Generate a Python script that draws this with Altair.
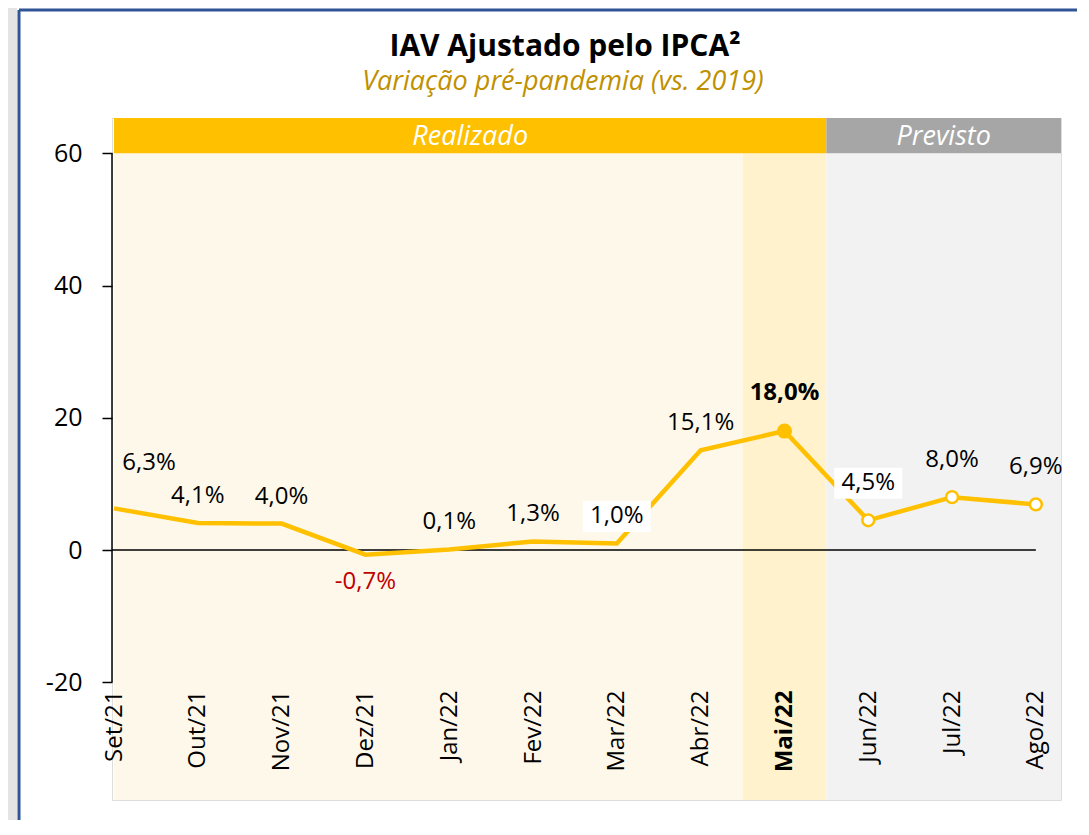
import json
import altair as alt
import pandas as pd

# ---------------- data ----------------
months = ["Set/21", "Out/21", "Nov/21", "Dez/21", "Jan/22", "Fev/22",
          "Mar/22", "Abr/22", "Mai/22", "Jun/22", "Jul/22", "Ago/22"]
values = [6.3, 4.1, 4.0, -0.7, 0.1, 1.3, 1.0, 15.1, 18.0, 4.5, 8.0, 6.9]
highlight_month = "Mai/22"
forecast_months = ["Jun/22", "Jul/22", "Ago/22"]
boxed_months = ["Mar/22", "Jun/22"]
y_ticks = [-20, 0, 20, 40, 60]
header_labels = ["Realizado", "Previsto"]
title_text = "IAV Ajustado pelo IPCA²"
subtitle_text = "Variação pré-pandemia (vs. 2019)"

# ---------------- style ----------------
FONT = "Open Sans"
YELLOW = "#FFC000"
GREY_HDR = "#A6A6A6"
CREAM = "#FEF8EB"
MAI_BG = "#FFF2CC"
GREY_BG = "#F2F2F2"
GOLD = "#BF9000"
RED = "#C00000"
BLUE = "#2F5597"

W, H = 949, 682
X_MIN, X_MAX = -0.024, 11.3
Y_MIN, Y_MAX = -37.8, 65.34
Y_TOP = max(y_ticks)
Y_BOT = min(y_ticks)

xscale = alt.Scale(domain=[X_MIN, X_MAX], nice=False, zero=False)
yscale = alt.Scale(domain=[Y_MIN, Y_MAX], nice=False, zero=False)

hi = months.index(highlight_month)
n = len(months)

df = pd.DataFrame({"i": list(range(n)), "month": months, "v": values})
df["label"] = [f"{v:.1f}".replace(".", ",") + "%" for v in values]


def kind_of(i, m, v):
    if m == highlight_month:
        return "hi"
    if m in forecast_months:
        return "fc"
    if v < 0:
        return "neg"
    if i == 0:
        return "first"
    return "norm"


df["kind"] = [kind_of(i, m, v) for i, m, v in zip(df["i"], df["month"], df["v"])]
df["boxed"] = df["month"].isin(boxed_months)

x_axis = alt.Axis(
    values=list(range(n)),
    labelExpr=f"{json.dumps(months)}[datum.value]",
    labelAngle=270, labelAlign="right", labelBaseline="middle",
    labelFont=FONT, labelFontSize=24, labelColor="black",
    labelFontWeight={"condition": {"test": f"datum.value == {hi}", "value": "bold"},
                     "value": "normal"},
    ticks=False, tickSize=0, domain=False, grid=False, labelPadding=0,
    offset=-110, labelFlush=False, labelOverlap=False, title=None, zindex=1)
y_axis = alt.Axis(
    values=y_ticks, labelExpr="'' + datum.value",
    domain=False, grid=False, ticks=True, tickSize=10, tickColor="black",
    tickWidth=1.5, labelFont=FONT, labelFontSize=25, labelColor="black",
    labelPadding=20, labelFlush=False, title=None, zindex=1)


def X(f, **kw):
    return alt.X(f, type="quantitative", scale=xscale, axis=x_axis, **kw)


def Y(f, **kw):
    return alt.Y(f, type="quantitative", scale=yscale, axis=y_axis, **kw)


# background bands
bands = pd.DataFrame({
    "x0": [0, hi - 0.5, hi + 0.5],
    "x1": [hi - 0.5, hi + 0.5, X_MAX],
    "y0": [Y_MIN] * 3,
    "y1": [Y_TOP] * 3,
    "c": [CREAM, MAI_BG, GREY_BG],
})
band_layer = alt.Chart(bands).mark_rect().encode(
    x=X("x0"), x2="x1", y=Y("y0"), y2="y1",
    color=alt.Color("c:N", scale=None))

headers = pd.DataFrame({
    "x0": [0, hi + 0.5],
    "x1": [hi + 0.5, X_MAX],
    "y0": [Y_TOP] * 2,
    "y1": [Y_MAX] * 2,
    "c": [YELLOW, GREY_HDR],
    "t": header_labels,
})
headers["xm"] = (headers["x0"] + headers["x1"]) / 2
headers["ym"] = (headers["y0"] + headers["y1"]) / 2
header_layer = alt.Chart(headers).mark_rect().encode(
    x=X("x0"), x2="x1", y=Y("y0"), y2="y1",
    color=alt.Color("c:N", scale=None))
header_text = alt.Chart(headers).mark_text(
    font=FONT, fontSize=27, fontStyle="italic", color="white",
    baseline="middle", align="center", dy=1).encode(
    x=X("xm"), y=Y("ym"), text="t:N")

# zero line and y-axis line
zero_df = pd.DataFrame({"x0": [X_MIN], "x1": [n - 1], "y": [0]})
zero_layer = alt.Chart(zero_df).mark_rule(color="black", strokeWidth=1.5).encode(
    x=X("x0"), x2="x1", y=Y("y"))
yline_df = pd.DataFrame({"x": [X_MIN], "y0": [Y_BOT], "y1": [Y_TOP]})
yline_layer = alt.Chart(yline_df).mark_rule(color="black", strokeWidth=1.5).encode(
    x=X("x"), y=Y("y0"), y2="y1")

line_layer = alt.Chart(df).mark_line(color=YELLOW, strokeWidth=4.5).encode(
    x=X("i"), y=Y("v"))

hi_point = alt.Chart(df).transform_filter(alt.datum.kind == "hi").mark_circle(
    size=230, color=YELLOW, opacity=1).encode(x=X("i"), y=Y("v"))
fc_points = alt.Chart(df).transform_filter(alt.datum.kind == "fc").mark_point(
    filled=True, fill="white", stroke=YELLOW, strokeWidth=2.5, size=140,
    opacity=1).encode(x=X("i"), y=Y("v"))

# labels
label_groups = [
    # kind, dx, dy, color, weight
    ("first", 35, -45, "black", "normal"),
    ("norm", 0, -27, "black", "normal"),
    ("hi", 0, -38, "black", "bold"),
    ("neg", 0, 27, RED, "normal"),
    ("fc", 0, -37, "black", "normal"),
]

box_layers = []
text_layers = []
for kind, dx, dy, col, wt in label_groups:
    box_layers.append(
        alt.Chart(df).transform_filter(
            (alt.datum.kind == kind) & alt.datum.boxed).mark_rect(
            color="white", width=68, height=31, xOffset=dx, yOffset=dy).encode(
            x=X("i"), y=Y("v")))
    text_layers.append(
        alt.Chart(df).transform_filter(alt.datum.kind == kind).mark_text(
            font=FONT, fontSize=24, fontWeight=wt, color=col, dx=dx, dy=dy,
            align="center", baseline="middle").encode(
            x=X("i"), y=Y("v"), text="label:N"))

# title texts (pixel positions relative to plot)
one = pd.DataFrame({"t": [title_text], "s": [subtitle_text]})
title_layer = alt.Chart(one).mark_text(
    font=FONT, fontSize=30, fontWeight="bold", color="black",
    align="center", baseline="alphabetic").encode(
    x=alt.value(453), y=alt.value(-62), text="t:N")
subtitle_layer = alt.Chart(one).mark_text(
    font=FONT, fontSize=27, fontStyle="italic", color=GOLD,
    align="center", baseline="alphabetic").encode(
    x=alt.value(451), y=alt.value(-28), text="s:N")

# card frame
frame_left = alt.Chart(one).mark_rule(color=BLUE, strokeWidth=3).encode(
    x=alt.value(-93), y=alt.value(-108), y2=alt.value(H + 20))
frame_top = alt.Chart(one).mark_rule(color=BLUE, strokeWidth=3).encode(
    x=alt.value(-93), x2=alt.value(W + 16), y=alt.value(-108))
outer_strip = alt.Chart(one).mark_rect(color="#E4E4E4").encode(
    x=alt.value(-104), x2=alt.value(-95), y=alt.value(-110), y2=alt.value(H + 20))

chart = alt.layer(
    outer_strip, band_layer, header_layer, header_text, zero_layer, yline_layer,
    line_layer, hi_point, fc_points, *box_layers, *text_layers,
    title_layer, subtitle_layer, frame_left, frame_top,
).properties(
    width=W, height=H,
    autosize=alt.AutoSizeParams(type="none"),
    padding={"left": 104, "top": 110, "right": 16, "bottom": 20},
).configure_view(stroke=None).configure(background="white")

chart.save("out.html", embed_options={"renderer": "svg", "actions": False})
